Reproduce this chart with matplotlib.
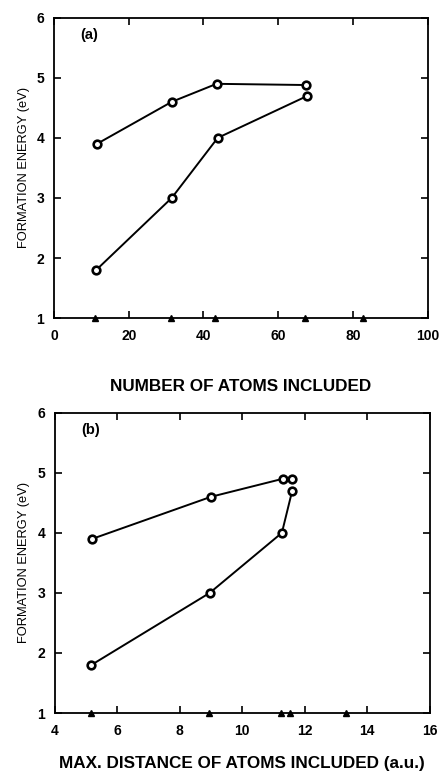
import numpy as np
import matplotlib.pyplot as plt

plt.rcParams['font.family'] = ['Liberation Sans', 'DejaVu Sans']

# panel (a): number of atoms included
a_up_x = [11.5, 31.5, 43.5, 67.5]
a_up_y = [3.9, 4.6, 4.9, 4.88]
a_lo_x = [11.3, 31.5, 43.8, 67.8]
a_lo_y = [1.8, 3.0, 4.0, 4.7]
a_tri_x = [11, 31.3, 43.1, 67.1, 82.7]

# panel (b): max. distance of atoms included (a.u.)
b_up_x = [5.2, 9.0, 11.3, 11.6]
b_up_y = [3.9, 4.6, 4.9, 4.9]
b_lo_x = [5.17, 8.96, 11.27, 11.6]
b_lo_y = [1.8, 3.0, 4.0, 4.7]
b_tri_x = [5.17, 8.93, 11.23, 11.52, 13.33]

fig = plt.figure(figsize=(4.42, 7.72), dpi=100)
ax1 = fig.add_axes([0.122, 0.588, 0.846, 0.389])
ax2 = fig.add_axes([0.124, 0.0764, 0.848, 0.389])


def style(ax, xmin, xmax, xstep, tag):
    ax.set_xlim(xmin, xmax)
    ax.set_ylim(1, 6)
    ax.set_xticks(np.arange(xmin, xmax + 0.1, xstep))
    ax.set_yticks([1, 2, 3, 4, 5, 6])
    ax.tick_params(direction='in', length=5, width=1.2, top=True, right=True,
                   labelsize=10, pad=8)
    ax.tick_params(axis='y', pad=7)
    for lab in ax.get_xticklabels() + ax.get_yticklabels():
        lab.set_fontweight('bold')
    for s in ax.spines.values():
        s.set_linewidth(1.3)
    ax.set_ylabel('FORMATION ENERGY (eV)', fontsize=9.3, labelpad=5)
    ax.text(0.07, 0.965, tag, transform=ax.transAxes, fontsize=10.5,
            fontweight='bold', va='top', ha='left')


mk = dict(marker='o', ms=5.5, mfc='white', mec='black', mew=1.9, color='black', lw=1.4)
tri = dict(marker='^', ms=4.5, color='black', ls='none', clip_on=False, zorder=5)

ax1.plot(a_up_x, a_up_y, **mk)
ax1.plot(a_lo_x, a_lo_y, **mk)
ax1.plot(a_tri_x, [1] * len(a_tri_x), **tri)
style(ax1, 0, 100, 20, '(a)')
ax1.set_xlabel('NUMBER OF ATOMS INCLUDED', fontsize=12.3, fontweight='bold', labelpad=26)

ax2.plot(b_up_x, b_up_y, **mk)
ax2.plot(b_lo_x, b_lo_y, **mk)
ax2.plot(b_tri_x, [1] * len(b_tri_x), **tri)
style(ax2, 4, 16, 2, '(b)')
ax2.set_xlabel('MAX. DISTANCE OF ATOMS INCLUDED (a.u.)', fontsize=12.3, fontweight='bold', labelpad=13)

fig.savefig('out.png', dpi=100)
